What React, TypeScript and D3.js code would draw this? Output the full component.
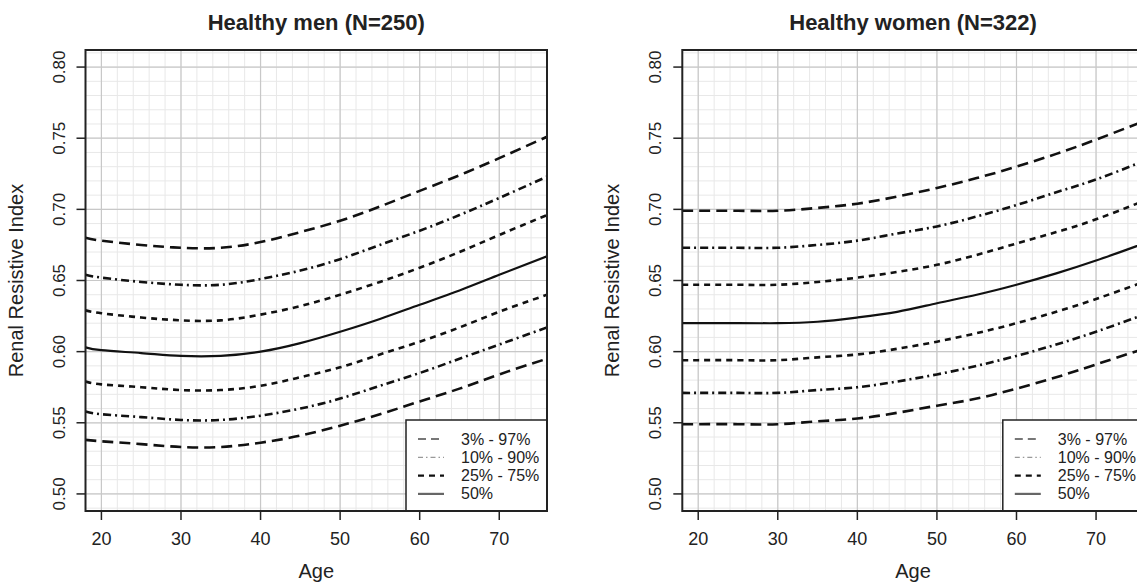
import React from 'react'
import * as d3 from 'd3'

const AGES = [18, 20, 25, 30, 35, 40, 45, 50, 55, 60, 65, 70, 76]

// Healthy men
const MEN_P97 = [0.680, 0.678, 0.675, 0.673, 0.673, 0.677, 0.684, 0.692, 0.702, 0.713, 0.724, 0.736, 0.751]
const MEN_P90 = [0.654, 0.652, 0.649, 0.647, 0.647, 0.651, 0.657, 0.665, 0.675, 0.685, 0.696, 0.708, 0.723]
const MEN_P75 = [0.629, 0.627, 0.624, 0.622, 0.622, 0.626, 0.632, 0.640, 0.649, 0.659, 0.670, 0.682, 0.696]
const MEN_P50 = [0.603, 0.601, 0.599, 0.597, 0.597, 0.600, 0.606, 0.614, 0.623, 0.633, 0.643, 0.654, 0.667]
const MEN_P25 = [0.579, 0.577, 0.575, 0.573, 0.573, 0.576, 0.582, 0.589, 0.598, 0.607, 0.617, 0.628, 0.640]
const MEN_P10 = [0.558, 0.556, 0.554, 0.552, 0.552, 0.555, 0.560, 0.567, 0.576, 0.585, 0.595, 0.605, 0.617]
const MEN_P03 = [0.538, 0.537, 0.535, 0.533, 0.533, 0.536, 0.541, 0.548, 0.556, 0.565, 0.574, 0.584, 0.595]

// Healthy women
const WOMEN_P97 = [0.699, 0.699, 0.699, 0.699, 0.701, 0.704, 0.709, 0.715, 0.722, 0.730, 0.739, 0.749, 0.762]
const WOMEN_P90 = [0.673, 0.673, 0.673, 0.673, 0.675, 0.678, 0.683, 0.688, 0.695, 0.703, 0.712, 0.721, 0.734]
const WOMEN_P75 = [0.647, 0.647, 0.647, 0.647, 0.649, 0.652, 0.656, 0.661, 0.668, 0.676, 0.684, 0.693, 0.706]
const WOMEN_P50 = [0.620, 0.620, 0.620, 0.620, 0.621, 0.624, 0.628, 0.634, 0.640, 0.647, 0.655, 0.664, 0.676]
const WOMEN_P25 = [0.594, 0.594, 0.594, 0.594, 0.596, 0.598, 0.602, 0.607, 0.613, 0.620, 0.628, 0.637, 0.649]
const WOMEN_P10 = [0.571, 0.571, 0.571, 0.571, 0.573, 0.575, 0.579, 0.584, 0.590, 0.597, 0.605, 0.614, 0.626]
const WOMEN_P03 = [0.549, 0.549, 0.549, 0.549, 0.551, 0.553, 0.557, 0.562, 0.567, 0.574, 0.582, 0.591, 0.602]

const X_TICKS = [20, 30, 40, 50, 60, 70]
const Y_TICKS = [0.50, 0.55, 0.60, 0.65, 0.70, 0.75, 0.80]
const LEGEND_LABELS = ['3% - 97%', '10% - 90%', '25% - 75%', '50%']

const W = 1137
const H = 585
const PLOT_W = 461.5
const TOP = 50
const BOTTOM = 511
const FONT = '"Liberation Sans", Arial, Helvetica, sans-serif'
const INK = '#222'

// line styles per band: [dasharray, width]
const STYLES: Record<string, [string, number]> = {
  outer: ['11,6', 2.6],
  mid: ['8,4,2,4', 2.6],
  inner: ['6,5', 2.6],
  median: ['', 2.2],
}
const LEGEND_STYLES = [
  { dash: '8,5', w: 2, c: '#777' },
  { dash: '5,3,1.5,3', w: 1.2, c: '#999' },
  { dash: '6,5', w: 2.4, c: '#111' },
  { dash: '', w: 2.2, c: '#666' },
]

type Curve = { vals: number[]; style: string }

function Panel({ left, title, curves, id }: { left: number; title: string; curves: Curve[]; id: string }) {
  const x = d3.scaleLinear().domain([18, 76]).range([left, left + PLOT_W])
  const y = d3.scaleLinear().domain([0.488, 0.812]).range([BOTTOM, TOP])
  const line = d3.line<number>()
    .x((_, i) => x(AGES[i]))
    .y(d => y(d))
    .curve(d3.curveNatural)

  const minorX = d3.range(18, 77, 2)
  const minorY = d3.range(49, 82, 1).map(v => v / 100)
  const right = left + PLOT_W
  const legW = 141
  const legL = right - legW
  const legT = 420

  return (
    <g fontFamily={FONT} fill={INK}>
      <defs>
        <clipPath id={id}>
          <rect x={left} y={TOP} width={PLOT_W} height={BOTTOM - TOP} />
        </clipPath>
      </defs>
      <text x={(left + right) / 2} y={30} textAnchor="middle" fontWeight="bold" fontSize={22}>{title}</text>

      {/* grid */}
      <g clipPath={`url(#${id})`}>
        {minorX.map(v => <line key={'mx' + v} x1={x(v)} x2={x(v)} y1={TOP} y2={BOTTOM} stroke="#e8e8e8" strokeWidth={1} />)}
        {minorY.map(v => <line key={'my' + v} x1={left} x2={right} y1={y(v)} y2={y(v)} stroke="#e8e8e8" strokeWidth={1} />)}
        {X_TICKS.map(v => <line key={'gx' + v} x1={x(v)} x2={x(v)} y1={TOP} y2={BOTTOM} stroke="#c8c8c8" strokeWidth={1.2} />)}
        {Y_TICKS.map(v => <line key={'gy' + v} x1={left} x2={right} y1={y(v)} y2={y(v)} stroke="#c8c8c8" strokeWidth={1.2} />)}

        {curves.map((c, i) => (
          <path key={i} d={line(c.vals) || ''} fill="none" stroke="#111"
            strokeWidth={STYLES[c.style][1]} strokeDasharray={STYLES[c.style][0] || undefined} />
        ))}
      </g>

      {/* legend */}
      <rect x={legL} y={legT} width={legW} height={BOTTOM - legT} fill="#fff" stroke={INK} strokeWidth={1.5} />
      {LEGEND_LABELS.map((lab, i) => {
        const ly = legT + 19 + i * 18.3
        const s = LEGEND_STYLES[i]
        return (
          <g key={lab}>
            <line x1={legL + 12} x2={legL + 38} y1={ly} y2={ly} stroke={s.c} strokeWidth={s.w} strokeDasharray={s.dash || undefined} />
            <text x={legL + 55} y={ly + 5.5} fontSize={16}>{lab}</text>
          </g>
        )
      })}

      {/* box */}
      <rect x={left} y={TOP} width={PLOT_W} height={BOTTOM - TOP} fill="none" stroke={INK} strokeWidth={2} />

      {/* x axis */}
      {X_TICKS.map(v => (
        <g key={'xt' + v}>
          <line x1={x(v)} x2={x(v)} y1={BOTTOM} y2={BOTTOM + 9} stroke={INK} strokeWidth={1.5} />
          <text x={x(v)} y={545} textAnchor="middle" fontSize={18}>{v}</text>
        </g>
      ))}
      <text x={(left + right) / 2} y={578} textAnchor="middle" fontSize={20}>Age</text>

      {/* y axis */}
      {Y_TICKS.map(v => (
        <g key={'yt' + v}>
          <line x1={left - 9} x2={left} y1={y(v)} y2={y(v)} stroke={INK} strokeWidth={1.5} />
          <text transform={`translate(${left - 21},${y(v)}) rotate(-90)`} textAnchor="middle" fontSize={17}>{v.toFixed(2)}</text>
        </g>
      ))}
      <text transform={`translate(${left - 63},${(TOP + BOTTOM) / 2}) rotate(-90)`} textAnchor="middle" fontSize={20}>Renal Resistive Index</text>
    </g>
  )
}

export default function App() {
  const men: Curve[] = [
    { vals: MEN_P97, style: 'outer' }, { vals: MEN_P90, style: 'mid' }, { vals: MEN_P75, style: 'inner' },
    { vals: MEN_P50, style: 'median' },
    { vals: MEN_P25, style: 'inner' }, { vals: MEN_P10, style: 'mid' }, { vals: MEN_P03, style: 'outer' },
  ]
  const women: Curve[] = [
    { vals: WOMEN_P97, style: 'outer' }, { vals: WOMEN_P90, style: 'mid' }, { vals: WOMEN_P75, style: 'inner' },
    { vals: WOMEN_P50, style: 'median' },
    { vals: WOMEN_P25, style: 'inner' }, { vals: WOMEN_P10, style: 'mid' }, { vals: WOMEN_P03, style: 'outer' },
  ]
  return (
    <svg width={W} height={H} style={{ position: 'absolute', left: 0, top: 0, background: '#fff' }}>
      <rect width={W} height={H} fill="#fff" />
      <Panel id="clipMen" left={85.5} title="Healthy men (N=250)" curves={men} />
      <Panel id="clipWomen" left={682.3} title="Healthy women (N=322)" curves={women} />
    </svg>
  )
}
